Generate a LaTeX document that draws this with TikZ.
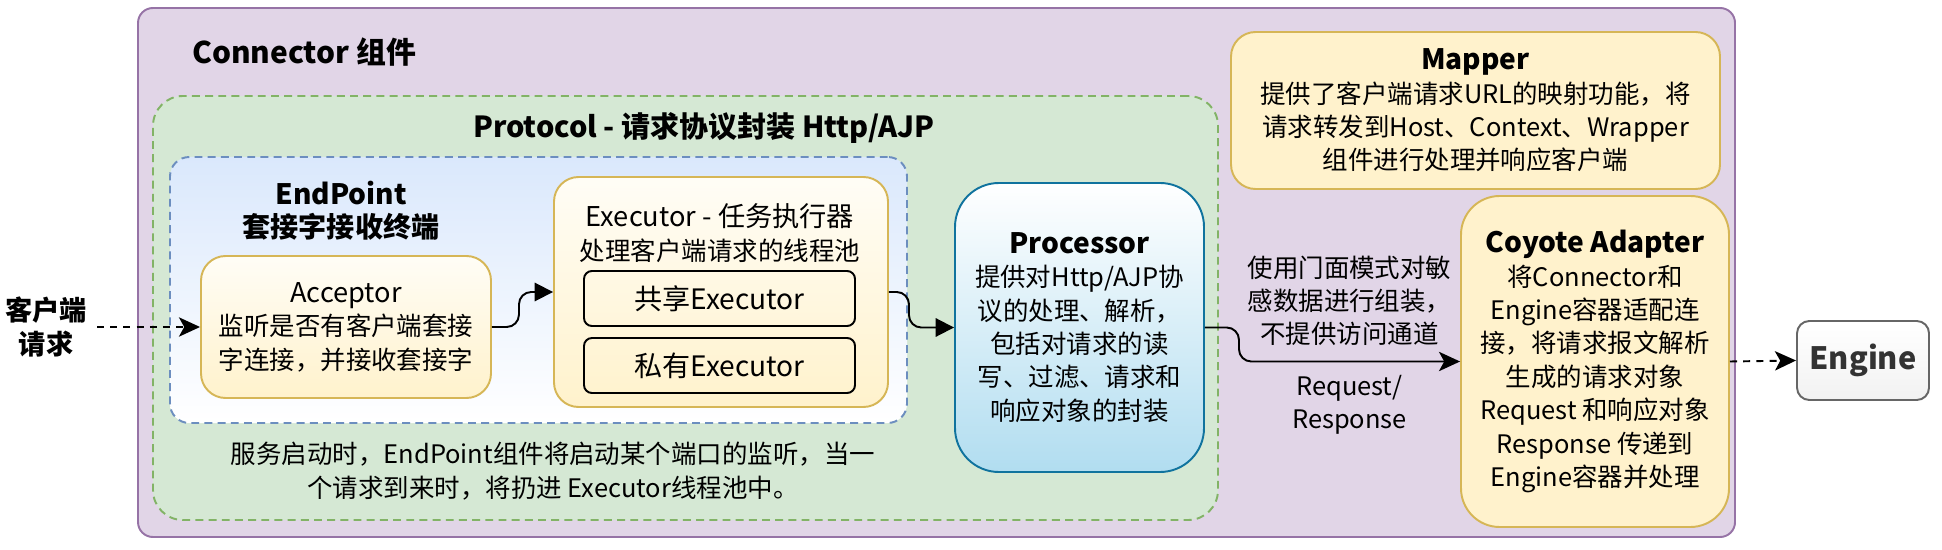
\documentclass[tikz,border=0pt]{standalone}
\usepackage{fontspec}
\setmainfont{Noto Sans CJK SC}
\usepackage{tikz}
\usetikzlibrary{arrows.meta}

\definecolor{connfill}{HTML}{E1D5E7}
\definecolor{connline}{HTML}{9673A6}
\definecolor{protofill}{HTML}{D5E8D4}
\definecolor{protoline}{HTML}{82B366}
\definecolor{epfill}{HTML}{DAE8FC}
\definecolor{epline}{HTML}{6C8EBF}
\definecolor{creamtop}{HTML}{FFFDF6}
\definecolor{creamfill}{HTML}{FFF2CC}
\definecolor{creamline}{HTML}{D6B656}
\definecolor{procfill}{HTML}{B1DDF0}
\definecolor{procline}{HTML}{10739E}
\definecolor{enginefill}{HTML}{F2F2F2}
\definecolor{engineline}{HTML}{666666}
\definecolor{enginetext}{HTML}{333333}

\newcommand\bodyfont{\fontsize{14.5}{19}\selectfont}
\newcommand\headfont{\fontsize{16}{19}\selectfont\bfseries}

\begin{document}
\begin{tikzpicture}[x=0.02cm,y=-0.02cm,
  boxsize/.style 2 args={minimum width=#1*0.02cm,minimum height=#2*0.02cm},
  box/.style={draw,line width=1.1pt,inner sep=0pt,align=center,font=\bodyfont},
  creambox/.style={box,creamline,text=black,top color=creamtop,bottom color=creamfill},
  subbox/.style={box,black,rounded corners=4.5pt,font=\fontsize{16}{19}\selectfont},
  label/.style={align=center,font=\bodyfont},
  flow/.style={line width=1.1pt,-{Triangle[length=10.5pt,width=10.5pt]}},
  dflow/.style={line width=1.1pt,dash pattern=on 4pt off 3.5pt,
    -{Stealth[length=12pt,width=11pt,inset=3pt]}}]
  \useasboundingbox (0,0) rectangle (1942,550);

  % containers
  \node[box,connline,fill=connfill,rounded corners=8.5pt,boxsize={1597}{529}]
    (connector) at (936.5,272.5) {};
  \node[box,protoline,fill=protofill,rounded corners=17pt,dash pattern=on 4.5pt off 3pt,
    boxsize={1065}{424}] (protocol) at (685.5,308) {};
  \node[box,epline,top color=epfill,bottom color=white,rounded corners=11pt,
    dash pattern=on 4.5pt off 3pt,boxsize={737}{266}] (endpoint) at (538.5,290) {};

  \node[anchor=west,font=\fontsize{17}{20}\selectfont\bfseries] (conntitle) at (186,52) {Connector 组件};
  \node[font=\fontsize{16.5}{19}\selectfont\bfseries] (prototitle) at (704,128) {Protocol - 请求协议封装 Http/AJP};
  \node[label,font=\headfont] (eptitle) at (341,211) {EndPoint\\套接字接收终端};
  \node[label] (epnote) at (553,471) {服务启动时，EndPoint组件将启动某个端口的监听，当一\\个请求到来时，将扔进 Executor线程池中。};

  % endpoint parts
  \node[creambox,rounded corners=14pt,boxsize={290}{142}] (acc) at (346,327)
    {{\fontsize{15.5}{19}\selectfont Acceptor}\\监听是否有客户端套接\\字连接，并接收套接字};
  \node[creambox,rounded corners=14pt,boxsize={334}{230}] (exec) at (721,292) {};
  \node[label] (exectitle) at (720,233) {{\fontsize{15.5}{19}\selectfont Executor - 任务执行器}\\处理客户端请求的线程池};
  \node[subbox,boxsize={271}{55}] (shared) at (719.5,298.5) {共享Executor};
  \node[subbox,boxsize={271}{55}] (private) at (719.5,365.5) {私有Executor};

  % processor, mapper, adapter
  \node[box,procline,text=black,top color=white,bottom color=procfill,rounded corners=25pt,
    boxsize={249}{289}] (proc) at (1079.5,327.5)
    {{\headfont Processor}\\提供对Http/AJP协\\议的处理、解析，\\包括对请求的读\\写、过滤、请求和\\响应对象的封装};
  \node[box,creamline,text=black,fill=creamfill,rounded corners=14pt,boxsize={489}{157}]
    (mapper) at (1475.5,110.5)
    {{\headfont Mapper}\\提供了客户端请求URL的映射功能，将\\请求转发到Host、Context、Wrapper\\组件进行处理并响应客户端};
  \node[box,creamline,text=black,fill=creamfill,rounded corners=22pt,boxsize={268}{331}]
    (coyote) at (1595,361.5)
    {{\headfont Coyote Adapter}\\将Connector和\\Engine容器适配连\\接，将请求报文解析\\生成的请求对象\\Request 和响应对象\\Response 传递到\\Engine容器并处理};
  \node[box,engineline,text=enginetext,top color=white,bottom color=enginefill,
    rounded corners=7pt,font=\fontsize{17.5}{20}\selectfont\bfseries,boxsize={132}{79}]
    (engine) at (1863,360.5) {Engine};

  \node[label,font=\fontsize{15.5}{19}\selectfont\bfseries] (client) at (46,327) {客户端\\请求};

  % connectors
  \draw[dflow] (client.east) ++(4,0) -- (acc.west);
  \draw[flow,rounded corners=7pt] (acc.east) -- ++(27,0) |- (exec.west);
  \draw[flow,rounded corners=7pt] (exec.east) -- ++(20,0) |- (proc.west);
  \draw[dflow,solid,rounded corners=7pt] (proc.east) -- ++(34,0) |-
    node[pos=0.75,above=5pt,label] (facade) {使用门面模式对敏\\感数据进行组装，\\不提供访问通道}
    node[pos=0.75,below=4pt,label] (reqresp) {Request/\\Response} (coyote.west);
  \draw[dflow] (coyote.east) -- (engine.west);
\end{tikzpicture}
\end{document}
